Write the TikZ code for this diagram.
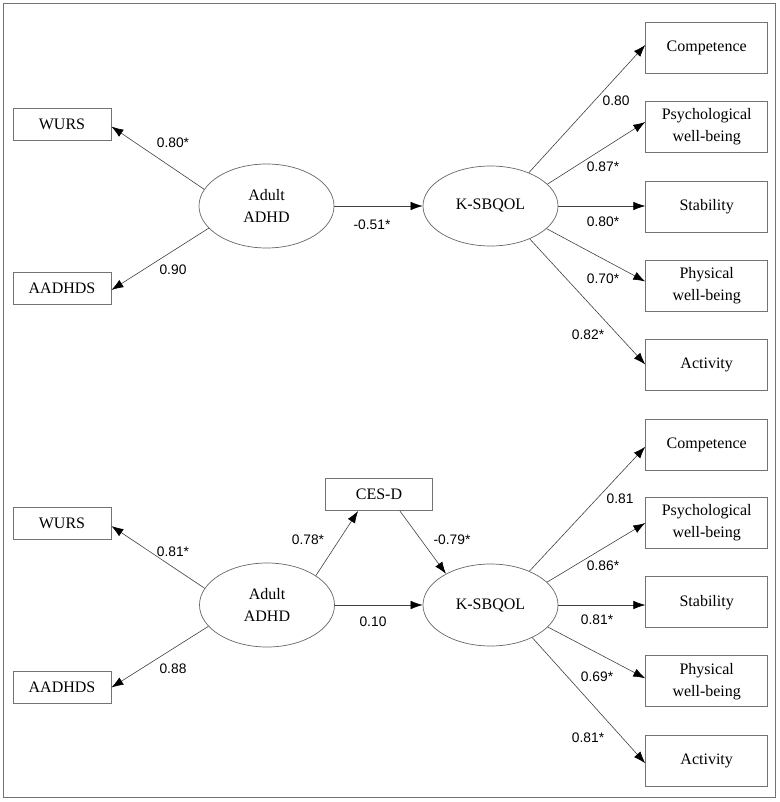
\documentclass[tikz,border=0pt]{standalone}
\usepackage{fontspec}
\setmainfont{Liberation Serif}
\newfontfamily\numfont{Liberation Sans}
\usetikzlibrary{shapes.geometric,arrows.meta}
\begin{document}
\begin{tikzpicture}[x=1pt,y=1pt,
  obs/.style={draw=black!55,line width=0.8pt,rectangle,inner sep=0pt,minimum width=122pt,minimum height=51pt,align=center,font=\fontsize{16}{22}\selectfont},
  obsl/.style={obs,minimum width=98pt,minimum height=32pt},
  lat/.style={draw=black!60,line width=0.7pt,ellipse,inner sep=0pt,minimum width=135pt,minimum height=82pt,align=center,font=\fontsize{16}{22}\selectfont},
  path/.style={draw=black!75,line width=0.6pt,-{Latex[length=12pt,width=8.5pt,fill=black,color=black]}},
  coef/.style={font=\numfont\fontsize{13.8}{16}\selectfont,inner sep=0pt}]
\useasboundingbox (0,0) rectangle (779,-802);
\draw[black!55,line width=0.9pt] (3,-3) rectangle (775.5,-797.5);

% ---------- top model ----------
\node[obsl] (wurs1) at (62,-124) {WURS};
\node[obsl] (aadh1) at (62,-288) {AADHDS};
\node[lat,minimum height=84pt] (adhd1) at (266.5,-206) {Adult\\ADHD};
\node[lat,minimum height=80pt] (ksb1) at (490.5,-206) {K-SBQOL};
\node[obs] (comp1) at (706.7,-48) {Competence};
\node[obs] (psy1) at (706.7,-127) {Psychological\\well-being};
\node[obs] (stab1) at (706.7,-206.5) {Stability};
\node[obs] (phy1) at (706.7,-285.5) {Physical\\well-being};
\node[obs] (act1) at (706.7,-364.5) {Activity};

\draw[path] (adhd1.165) -- ([yshift=-2.5pt]wurs1.east);
\draw[path] (adhd1.201) -- ([yshift=-2pt]aadh1.east);
\draw[path] (adhd1.east) -- (ksb1.west);
\draw[path] (ksb1.41) -- ([yshift=3pt]comp1.west);
\draw[path] (ksb1.21.5) -- ([yshift=5pt]psy1.west);
\draw[path] (ksb1.east) -- (stab1.west |- ksb1.east);
\draw[path] (ksb1.-22) -- ([yshift=4pt]phy1.west);
\draw[path] (ksb1.-40.7) -- (act1.west);

\node[coef] (c1) at (173,-143) {0.80*};
\node[coef] (c2) at (173,-270) {0.90};
\node[coef] (c3) at (372,-225) {-0.51*};
\node[coef] (c4) at (616,-101) {0.80};
\node[coef] (c5) at (603,-166.7) {0.87*};
\node[coef] (c6) at (603,-221.7) {0.80*};
\node[coef] (c7) at (603,-279) {0.70*};
\node[coef] (c8) at (588,-335) {0.82*};

% ---------- bottom model ----------
\node[obsl] (wurs2) at (62,-523) {WURS};
\node[obsl] (aadh2) at (62,-687.5) {AADHDS};
\node[obsl,minimum width=107.7pt,minimum height=32.4pt] (cesd) at (379,-494.5) {CES-D};
\node[lat,minimum height=84pt] (adhd2) at (267,-605) {Adult\\ADHD};
\node[lat,minimum height=82pt] (ksb2) at (490.5,-605) {K-SBQOL};
\node[obs] (comp2) at (706.7,-444.7) {Competence};
\node[obs] (psy2) at (706.7,-523) {Psychological\\well-being};
\node[obs] (stab2) at (706.7,-602.2) {Stability};
\node[obs] (phy2) at (706.7,-681.3) {Physical\\well-being};
\node[obs] (act2) at (706.7,-760.7) {Activity};

\draw[path] (adhd2.165.5) -- ([yshift=-3pt]wurs2.east);
\draw[path] (adhd2.200.4) -- (aadh2.east);
\draw[path] (adhd2.31.7) -- ([xshift=-21pt]cesd.south);
\draw[path] ([xshift=21pt]cesd.south) -- (ksb2.145.5);
\draw[path] (adhd2.east) -- (ksb2.west);
\draw[path] (ksb2.41) -- ([yshift=-2pt]comp2.west);
\draw[path] (ksb2.22.6) -- (psy2.west);
\draw[path] (ksb2.east) -- (stab2.west |- ksb2.east);
\draw[path] (ksb2.-21) -- ([yshift=3pt]phy2.west);
\draw[path] (ksb2.-38.7) -- ([yshift=-2.6pt]act2.west);

\node[coef] (d1) at (173,-551.7) {0.81*};
\node[coef] (d2) at (173,-669) {0.88};
\node[coef] (d3) at (308,-540) {0.78*};
\node[coef] (d4) at (452,-540) {-0.79*};
\node[coef] (d5) at (373,-621.7) {0.10};
\node[coef] (d6) at (620,-499) {0.81};
\node[coef] (d7) at (603,-565.7) {0.86*};
\node[coef] (d8) at (597,-620) {0.81*};
\node[coef] (d9) at (597,-677) {0.69*};
\node[coef] (d10) at (588,-738) {0.81*};
\end{tikzpicture}
\end{document}
